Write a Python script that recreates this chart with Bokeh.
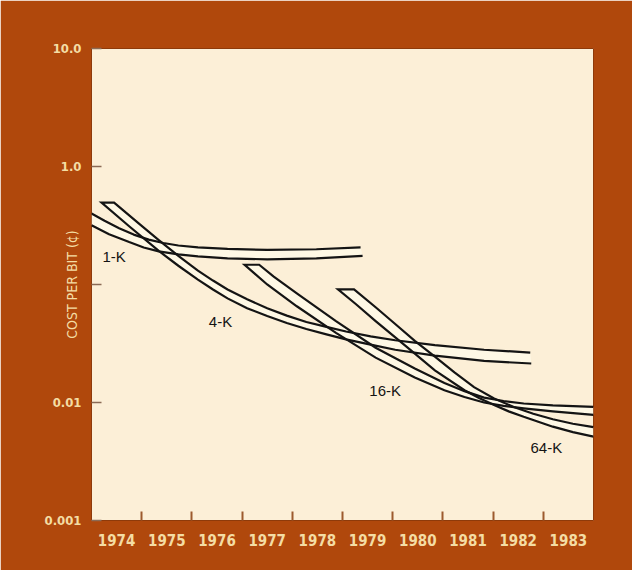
from bokeh.plotting import figure
from bokeh.models import FixedTicker
from bokeh.core.properties import value
from bokeh.embed import file_html
from bokeh.resources import INLINE

# ---- data (year, cost per bit in cents) ----
k1_upper_year = [1974.00, 1974.26, 1974.55, 1974.84, 1975.14, 1975.43, 1975.73, 1976.12, 1976.71, 1977.50, 1978.48, 1979.36]
k1_upper_cost = [0.400, 0.3465, 0.300, 0.2647, 0.2402, 0.2246, 0.2141, 0.2060, 0.2001, 0.1963, 0.1989, 0.2060]
k1_lower_year = [1974.00, 1974.35, 1974.75, 1975.04, 1975.34, 1975.73, 1976.12, 1976.71, 1977.50, 1978.48, 1979.40]
k1_lower_cost = [0.318, 0.267, 0.229, 0.2060, 0.1907, 0.1800, 0.1732, 0.1666, 0.1634, 0.1666, 0.1749]

k4_upper_year = [1974.45, 1974.94, 1975.34, 1975.73, 1976.12, 1976.42, 1976.71, 1977.10, 1977.50, 1977.89,
                 1978.28, 1978.68, 1979.07, 1979.56, 1980.05, 1980.84, 1981.82, 1982.74]
k4_upper_cost = [0.495, 0.330, 0.238, 0.1749, 0.1310, 0.1080, 0.0908, 0.0749, 0.0630, 0.0545,
                 0.0481, 0.0437, 0.0400, 0.0363, 0.0337, 0.0306, 0.0280, 0.0265]
k4_lower_year = [1974.20, 1974.75, 1975.34, 1975.73, 1976.12, 1976.42, 1976.71, 1977.10, 1977.50, 1977.89,
                 1978.28, 1978.68, 1979.07, 1979.56, 1980.05, 1980.84, 1981.82, 1982.76]
k4_lower_cost = [0.495, 0.3117, 0.1926, 0.1442, 0.1101, 0.0908, 0.0763, 0.0630, 0.0540, 0.0472,
                 0.0420, 0.0378, 0.0343, 0.0309, 0.0280, 0.0250, 0.0225, 0.0214]

k16_upper_year = [1977.34, 1977.63, 1978.09, 1978.87, 1979.66, 1980.44, 1981.03, 1981.43, 1981.82, 1982.21, 1982.61, 1983.19, 1984.0]
k16_upper_cost = [0.147, 0.1167, 0.0841, 0.0490, 0.0291, 0.0194, 0.0146, 0.01248, 0.01101, 0.01029, 0.00981, 0.00944, 0.00917]
k16_lower_year = [1977.05, 1977.50, 1978.09, 1978.87, 1979.66, 1980.44, 1981.03, 1981.43, 1981.82, 1982.21, 1982.61, 1983.19, 1984.0]
k16_lower_cost = [0.147, 0.100, 0.0654, 0.0389, 0.0240, 0.0163, 0.0127, 0.01112, 0.01000, 0.00935, 0.00891, 0.00841, 0.00786]

k64_upper_year = [1979.23, 1979.66, 1980.05, 1980.44, 1980.84, 1981.23, 1981.62, 1982.02, 1982.41, 1982.80, 1983.19, 1983.59, 1984.0]
k64_upper_cost = [0.0908, 0.0642, 0.0463, 0.0333, 0.0245, 0.0180, 0.01348, 0.01080, 0.00917, 0.00802, 0.00721, 0.00661, 0.00618]
k64_lower_year = [1978.91, 1979.27, 1979.66, 1980.25, 1980.84, 1981.43, 1981.72, 1982.02, 1982.31, 1982.61, 1983.19, 1983.59, 1984.0]
k64_lower_cost = [0.0908, 0.0680, 0.0490, 0.0303, 0.0187, 0.0127, 0.01091, 0.00953, 0.00841, 0.00756, 0.00624, 0.00561, 0.00514]

band_names = ["1-K", "4-K", "16-K", "64-K"]
band_label_year = [1974.45, 1976.57, 1979.85, 1983.06]
band_label_cost = [0.1716, 0.049, 0.0127, 0.00416]

year_labels = ["1974", "1975", "1976", "1977", "1978", "1979", "1980", "1981", "1982", "1983"]
year_label_pos = [1974.5, 1975.5, 1976.5, 1977.5, 1978.5, 1979.5, 1980.5, 1981.5, 1982.5, 1983.5]
year_ticks = [1975, 1976, 1977, 1978, 1979, 1980, 1981, 1982, 1983]
cost_ticks = [0.001, 0.01, 0.1, 1.0, 10.0]
cost_labels = ["0.001", "0.01", "", "1.0", "10.0"]   # 0.1 label hidden behind axis title in the original

# ---- styling ----
BROWN = "#B0480C"
CREAM = "#FCEFD7"
LABEL = "#F4DDA4"
INK = "#141414"
NARROW = "'Liberation Sans Narrow', 'DejaVu Sans Condensed', 'Roboto', sans-serif"

p = figure(frame_width=502, frame_height=472,
           min_border_left=91, min_border_right=39, min_border_top=48, min_border_bottom=50,
           x_range=(1974, 1984), y_range=(0.001, 10.0), y_axis_type="log",
           output_backend="svg", toolbar_location=None)
p.background_fill_color = CREAM
p.border_fill_color = BROWN
p.outline_line_color = "#8E3A0A"
p.outline_line_width = 1
p.grid.visible = False

# x axis: labels centred in each year, tick marks at year boundaries
xa = p.xaxis[0]
xa.ticker = FixedTicker(ticks=year_label_pos, minor_ticks=year_ticks)
xa.major_label_overrides = {pos: lab for pos, lab in zip(year_label_pos, year_labels)}
xa.major_tick_line_color = None
xa.minor_tick_in = 9
xa.minor_tick_out = 0
xa.minor_tick_line_color = "#9C5A2E"
xa.minor_tick_line_width = 2
xa.axis_line_color = None
xa.major_label_text_color = LABEL
xa.major_label_text_font = NARROW
xa.major_label_text_font_style = "bold"
xa.major_label_text_font_size = "15px"
xa.major_label_standoff = 7

ya = p.yaxis[0]
ya.ticker = FixedTicker(ticks=cost_ticks)
ya.major_label_overrides = {t: lab for t, lab in zip(cost_ticks, cost_labels)}
ya.major_tick_in = 10
ya.major_tick_out = 0
ya.major_tick_line_color = "#8A6A55"
ya.major_tick_line_width = 1.5
ya.minor_tick_line_color = None
ya.axis_line_color = None
ya.major_label_text_color = LABEL
ya.major_label_text_font = NARROW
ya.major_label_text_font_style = "bold"
ya.major_label_text_font_size = "13px"
ya.major_label_standoff = 10
ya.axis_label = "COST PER BIT (\u00a2)"
ya.axis_label_text_color = LABEL
ya.axis_label_text_font = NARROW
ya.axis_label_text_font_style = "normal"
ya.axis_label_text_font_size = "14px"
ya.axis_label_standoff = -38

bands = [
    (k1_upper_year, k1_upper_cost, k1_lower_year, k1_lower_cost, False),
    (k4_upper_year, k4_upper_cost, k4_lower_year, k4_lower_cost, True),
    (k16_upper_year, k16_upper_cost, k16_lower_year, k16_lower_cost, True),
    (k64_upper_year, k64_upper_cost, k64_lower_year, k64_lower_cost, True),
]

for uy, uc, ly, lc, capped in bands:
    p.patch(uy + ly[::-1], uc + lc[::-1], fill_color="#FFFBEA", fill_alpha=0.75, line_color=None)

for uy, uc, ly, lc, capped in bands:
    if capped:
        p.line(uy[::-1] + ly, uc[::-1] + lc, line_color=INK, line_width=2.2, line_join="miter")
    else:
        p.line(uy, uc, line_color=INK, line_width=2.2)
        p.line(ly, lc, line_color=INK, line_width=2.2)

p.text(x=band_label_year, y=band_label_cost, text=band_names,
       text_font=value("Liberation Sans"), text_font_size="15px", text_color=INK,
       text_align="center", text_baseline="middle")

open("out.html", "w").write(file_html(p, INLINE))
